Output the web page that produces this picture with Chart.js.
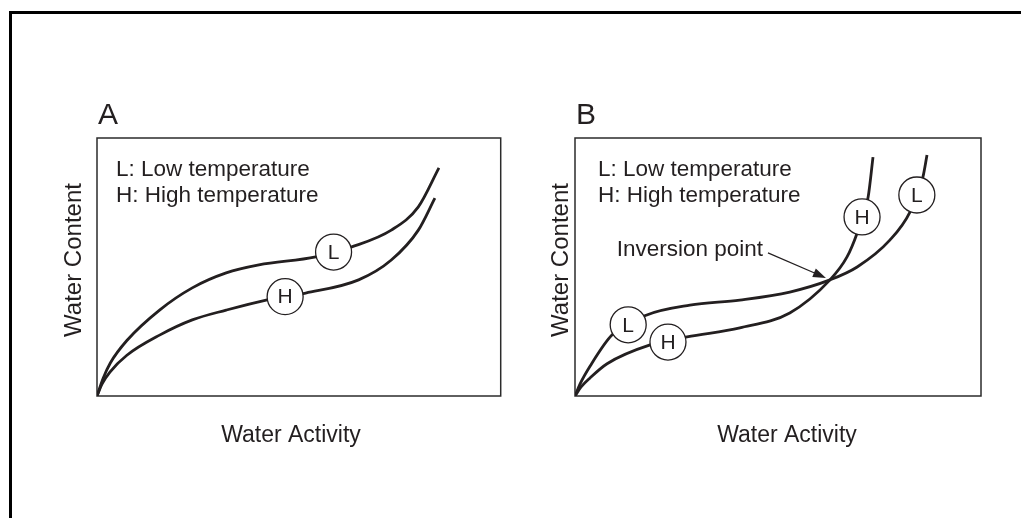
<!DOCTYPE html>
<html>
<head>
<meta charset="utf-8">
<title>Sorption isotherms</title>
<script src="https://cdn.jsdelivr.net/npm/chart.js@4.4.1/dist/chart.umd.min.js"></script>
<style>
  html, body { margin: 0; padding: 0; background: #fff; }
  body { width: 1021px; height: 518px; position: relative; overflow: hidden; }
  #frame { position: absolute; left: 9px; top: 11px; width: 1100px; height: 600px;
           border-left: 3px solid #000; border-top: 3px solid #000; }
  .panel { position: absolute; top: 0; height: 518px; }
  #panelA { left: 0; width: 520px; }
  #panelB { left: 520px; width: 501px; }
</style>
</head>
<body>
<div id="frame"></div>
<div class="panel" id="panelA"><canvas id="chartA"></canvas></div>
<div class="panel" id="panelB"><canvas id="chartB"></canvas></div>
<script>
// Axes run 0..1 on both panels (relative water activity / relative water content)
const xTitle = 'Water Activity';
const yTitle = 'Water Content';
const legendLines = ['L: Low temperature', 'H: High temperature'];

// Panel A: low temperature curve lies above high temperature everywhere
const aLowX  = [0, 0.015, 0.033, 0.074, 0.155, 0.236, 0.320, 0.401, 0.542, 0.631, 0.729, 0.796, 0.847];
const aLowY  = [0, 0.068, 0.128, 0.215, 0.333, 0.419, 0.477, 0.508, 0.539, 0.578, 0.643, 0.733, 0.884];
const aHighX = [0, 0.013, 0.032, 0.074, 0.155, 0.236, 0.320, 0.419, 0.517, 0.648, 0.729, 0.796, 0.837];
const aHighY = [0, 0.048, 0.093, 0.158, 0.236, 0.295, 0.333, 0.372, 0.399, 0.450, 0.527, 0.643, 0.767];
const aMarkerX = [0.586, 0.466];
const aMarkerY = [0.558, 0.385];
const aMarkerText = ['L', 'H'];

// Panel B: curves cross at the inversion point
const bLowX  = [0, 0.012, 0.037, 0.091, 0.177, 0.283, 0.406, 0.529, 0.628, 0.695, 0.776, 0.825, 0.857, 0.867];
const bLowY  = [0, 0.045, 0.115, 0.236, 0.314, 0.352, 0.372, 0.403, 0.450, 0.500, 0.605, 0.713, 0.849, 0.934];
const bHighX = [0, 0.015, 0.037, 0.079, 0.185, 0.276, 0.406, 0.529, 0.628, 0.670, 0.695, 0.722, 0.734];
const bHighY = [0, 0.035, 0.070, 0.125, 0.198, 0.229, 0.264, 0.322, 0.450, 0.539, 0.632, 0.771, 0.926];
const bMarkerX = [0.131, 0.229, 0.707, 0.842];
const bMarkerY = [0.276, 0.209, 0.694, 0.779];
const bMarkerText = ['L', 'H', 'H', 'L'];
const inversionX = 0.628;
const inversionY = 0.450;
const inversionText = 'Inversion point';

const ink = '#231f20';
const font = '"Liberation Sans", Arial, Helvetica, sans-serif';

function toPoints(xs, ys) {
    return xs.map((x, i) => ({ x, y: ys[i] }));
}

function curve(xs, ys) {
    return {
        data: toPoints(xs, ys),
        showLine: true,
        pointRadius: 0,
        borderColor: ink,
        borderWidth: 2.8,
        cubicInterpolationMode: 'monotone',
        fill: false
    };
}

// Box, labels, axis titles and circle letters
function decorations(cfg) {
    return {
        id: 'decorations',
        beforeDatasetsDraw(chart) {
            const { ctx, chartArea: a } = chart;
            ctx.save();
            ctx.strokeStyle = '#2b2b2b';
            ctx.lineWidth = 1.5;
            ctx.strokeRect(a.left, a.top, a.right - a.left, a.bottom - a.top);
            ctx.restore();
        },
        afterDatasetsDraw(chart) {
            const { ctx, chartArea: a } = chart;
            ctx.save();
            ctx.fillStyle = ink;

            // panel letter
            ctx.font = '30px ' + font;
            ctx.textAlign = 'left';
            ctx.textBaseline = 'alphabetic';
            ctx.fillText(cfg.letter, a.left + 1, a.top - 14);

            // key text inside the box
            ctx.font = '22.5px ' + font;
            ctx.fillText(legendLines[0], a.left + cfg.keyOffset, a.top + 38);
            ctx.fillText(legendLines[1], a.left + cfg.keyOffset, a.top + 64);

            // axis titles
            ctx.font = '23px ' + font;
            ctx.textAlign = 'center';
            ctx.fillText(xTitle, a.left + cfg.xTitleOffset, a.bottom + 46);
            ctx.save();
            ctx.font = '24px ' + font;
            ctx.translate(a.left - cfg.yTitleOffset, (a.top + a.bottom) / 2 - 7);
            ctx.rotate(-Math.PI / 2);
            ctx.textBaseline = 'middle';
            ctx.fillText(yTitle, 0, 0);
            ctx.restore();

            // letters in the circle markers
            const meta = chart.getDatasetMeta(0);
            ctx.font = '21px ' + font;
            ctx.textAlign = 'center';
            ctx.textBaseline = 'middle';
            meta.data.forEach((pt, i) => {
                ctx.fillText(cfg.markerText[i], pt.x, pt.y + 1);
            });

            // inversion point arrow
            if (cfg.inversion) {
                const tx = chart.scales.x.getPixelForValue(cfg.inversion.x) - 4;
                const ty = chart.scales.y.getPixelForValue(cfg.inversion.y) - 2;
                const sx = tx - 58, sy = ty - 25;
                const ang = Math.atan2(ty - sy, tx - sx);
                ctx.strokeStyle = ink;
                ctx.lineWidth = 1.2;
                ctx.beginPath();
                ctx.moveTo(sx, sy);
                ctx.lineTo(tx - 8 * Math.cos(ang), ty - 8 * Math.sin(ang));
                ctx.stroke();
                ctx.beginPath();
                ctx.moveTo(tx, ty);
                ctx.lineTo(tx - 13 * Math.cos(ang) + 4.5 * Math.sin(ang), ty - 13 * Math.sin(ang) - 4.5 * Math.cos(ang));
                ctx.lineTo(tx - 13 * Math.cos(ang) - 4.5 * Math.sin(ang), ty - 13 * Math.sin(ang) + 4.5 * Math.cos(ang));
                ctx.closePath();
                ctx.fill();
                ctx.font = '22.5px ' + font;
                ctx.textAlign = 'right';
                ctx.textBaseline = 'alphabetic';
                ctx.fillText(cfg.inversion.text, sx - 5, sy + 3);
            }
            ctx.restore();
        }
    };
}

function makePanel(canvasId, cfg) {
    const ctx = document.getElementById(canvasId).getContext('2d');
    return new Chart(ctx, {
        type: 'scatter',
        data: {
            datasets: [
                {
                    data: toPoints(cfg.markerX, cfg.markerY),
                    pointRadius: 18,
                    pointHoverRadius: 18,
                    pointBackgroundColor: '#fff',
                    pointBorderColor: ink,
                    pointBorderWidth: 1.3,
                    showLine: false,
                    clip: false
                },
                curve(cfg.lowX, cfg.lowY),
                curve(cfg.highX, cfg.highY)
            ]
        },
        options: {
            responsive: true,
            maintainAspectRatio: false,
            animation: false,
            layout: { padding: cfg.padding },
            scales: {
                x: { type: 'linear', min: 0, max: 1, display: false },
                y: { type: 'linear', min: 0, max: 1, display: false }
            },
            plugins: {
                legend: { display: false },
                tooltip: { enabled: false }
            }
        },
        plugins: [decorations(cfg)]
    });
}

makePanel('chartA', {
    letter: 'A',
    lowX: aLowX, lowY: aLowY, highX: aHighX, highY: aHighY,
    markerX: aMarkerX, markerY: aMarkerY, markerText: aMarkerText,
    padding: { left: 97, right: 17, top: 138, bottom: 122 },
    keyOffset: 19, xTitleOffset: 194, yTitleOffset: 23
});

makePanel('chartB', {
    letter: 'B',
    lowX: bLowX, lowY: bLowY, highX: bHighX, highY: bHighY,
    markerX: bMarkerX, markerY: bMarkerY, markerText: bMarkerText,
    padding: { left: 55, right: 40, top: 138, bottom: 122 },
    keyOffset: 23, xTitleOffset: 212, yTitleOffset: 14,
    inversion: { x: inversionX, y: inversionY, text: inversionText }
});
</script>
</body>
</html>
